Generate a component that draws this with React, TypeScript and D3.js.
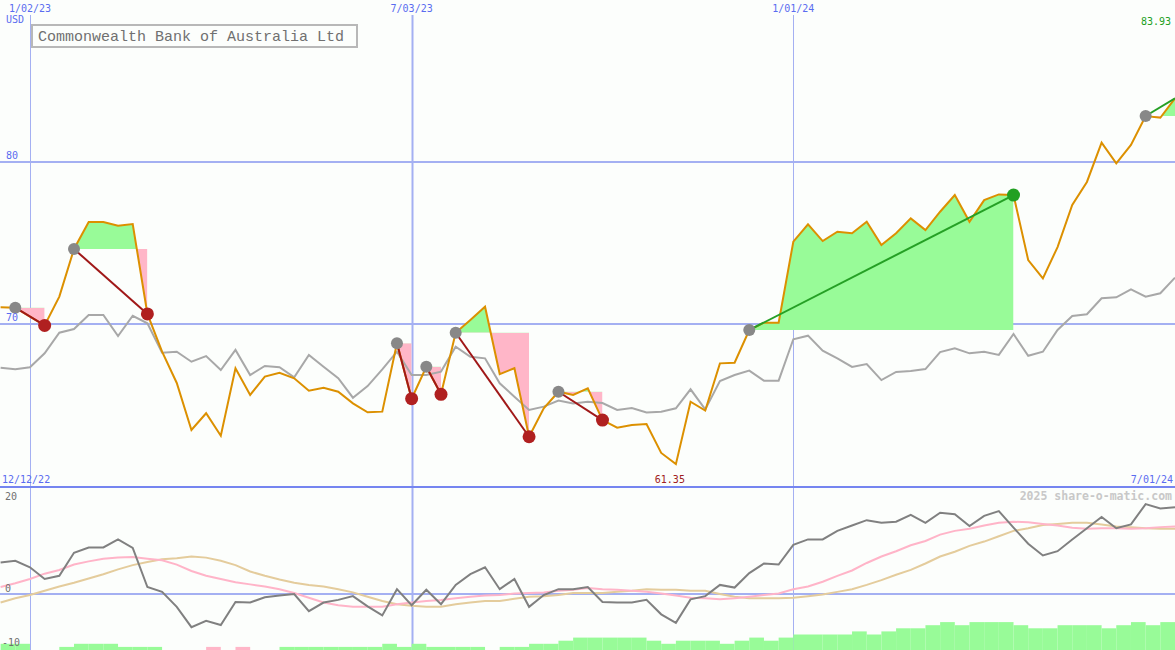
import React from 'react'
import * as d3 from 'd3'

// weekly closes, first week 19 Dec 2022, last week 1 Jul 2024
const firstWeek = new Date(Date.UTC(2022, 11, 19))

const closes = [
  71.03, 71.01, 70.46, 69.91, 71.69, 74.63, 76.3, 76.3, 76.07, 76.17,
  70.62, 68.29, 66.36, 63.46, 64.49, 63.1, 67.27, 65.62, 66.75, 66.99,
  66.65, 65.88, 66.07, 65.82, 65.1, 64.55, 64.59, 68.81, 65.39, 67.36,
  65.66, 69.46, 70.25, 71.07, 66.91, 67.27, 63.04, 64.8, 65.82, 65.62,
  66.03, 64.07, 63.6, 63.77, 63.83, 62.04, 61.35, 65.2, 64.66, 67.57,
  67.61, 69.63, 70.08, 70.08, 75.08, 76.15, 75.12, 75.7, 75.6, 76.31,
  74.88, 75.6, 76.52, 75.8, 76.93, 77.96, 76.31, 77.65, 78.0, 77.96,
  73.95, 72.81, 74.75, 77.35, 78.77, 81.19, 79.92, 81.05, 82.84, 82.73,
  83.93,
]

// relative strength vs. market, drawn on the price scale
const relative = [
  67.3, 67.2, 67.33, 68.19, 69.46, 69.69, 70.56, 70.56, 69.26, 70.51,
  70.04, 68.23, 68.29, 67.67, 68.02, 67.16, 68.4, 66.85, 67.41, 67.33,
  66.71, 68.09, 67.36, 66.65, 65.45, 66.17, 67.2, 68.29, 66.85, 66.85,
  67.06, 68.6, 67.98, 67.88, 66.34, 65.51, 64.69, 64.9, 65.27, 65.1,
  65.2, 65.12, 64.69, 64.81, 64.54, 64.59, 64.8, 65.97, 64.73, 66.48,
  66.85, 67.12, 66.5, 66.5, 69.06, 69.28, 68.35, 67.88, 67.35, 67.53,
  66.54, 67.04, 67.1, 67.22, 68.27, 68.5, 68.19, 68.29, 68.09, 69.38,
  68.04, 68.29, 69.63, 70.49, 70.6, 71.59, 71.65, 72.14, 71.69, 71.9,
  72.86,
]

const momentum = [
  5.9, 6.2, 5.0, 2.8, 3.4, 7.7, 8.7, 8.7, 10.2, 8.6,
  1.3, 0.4, -2.4, -6.2, -5.0, -5.8, -1.5, -1.6, -0.6, -0.3,
  0.0, -3.2, -1.6, -1.1, -0.4, -2.3, -4.0, 0.9, -2.1, 0.8,
  -1.9, 1.7, 3.7, 5.0, 0.9, 2.8, -2.4, -0.2, 0.9, 0.9,
  1.3, -1.5, -1.6, -1.6, -1.1, -3.8, -5.4, -1.0, -0.4, 1.7,
  1.2, 3.9, 5.7, 5.5, 9.2, 10.2, 10.2, 11.8, 12.8, 13.8,
  13.3, 13.5, 14.8, 13.3, 15.2, 14.9, 12.7, 14.6, 15.5, 12.4,
  9.4, 7.2, 8.0, 10.2, 12.3, 14.4, 12.3, 13.0, 16.8, 16.0,
  16.2,
]

const signalFast = [
  1.3, 2.0, 2.8, 3.8, 4.5, 5.5, 6.1, 6.6, 6.8, 6.9,
  6.6, 6.3, 5.5, 4.3, 3.4, 2.8, 2.2, 1.8, 1.4, 0.9,
  0.2, -0.7, -1.6, -2.1, -2.4, -2.4, -2.4, -1.9, -1.6, -1.3,
  -1.1, -0.8, -0.5, -0.3, -0.2, 0.1, 0.2, 0.3, 0.6, 0.8,
  1.1, 0.9, 0.8, 0.6, 0.4, 0.1, -0.3, -0.7, -0.8, -1.0,
  -0.8, -0.5, -0.2, 0.1, 0.9, 1.4, 2.3, 3.4, 4.4, 5.8,
  7.0, 8.0, 9.1, 9.9, 11.1, 11.8, 12.2, 12.8, 13.3, 13.5,
  13.4, 13.1, 12.8, 12.4, 12.2, 12.3, 12.3, 12.2, 12.3, 12.5,
  12.6,
]

const signalSlow = [
  -1.6, -0.8, -0.2, 0.6, 1.4, 2.1, 2.9, 3.7, 4.6, 5.4,
  6.0, 6.5, 6.7, 7.0, 6.8, 6.2, 5.4, 4.2, 3.4, 2.7,
  2.1, 1.7, 1.4, 0.9, 0.3, -0.5, -1.3, -1.9, -2.2, -2.4,
  -2.4, -1.9, -1.6, -1.3, -1.3, -0.9, -0.5, -0.4, -0.2, 0.2,
  0.2, 0.2, 0.4, 0.6, 0.9, 0.8, 0.8, 0.6, 0.6, 0.0,
  -0.5, -0.8, -0.8, -0.8, -0.7, -0.4, -0.1, 0.4, 0.9, 1.7,
  2.6, 3.6, 4.5, 5.7, 7.0, 7.9, 9.0, 9.8, 10.8, 11.8,
  12.3, 12.9, 13.1, 13.3, 13.3, 13.0, 12.6, 12.5, 12.3, 12.2,
  12.2,
]

// one bar per week interval, negative = pink
const flow = [
  2, 2, 0, 0, 1, 2, 2, 2, 1, 1,
  1, 0, 0, 0, -1, 0, -1, 0, 0, 1,
  1, 1, 1, 1, 1, 1, 2, 1, 2, 1,
  1, 1, 1, 0, 1, 1, 2, 2, 3, 4,
  4, 4, 4, 4, 3, 2, 3, 3, 3, 2,
  3, 4, 3, 4, 5, 5, 5, 5, 6, 5,
  6, 7, 7, 8, 9, 8, 9, 9, 9, 8,
  7, 7, 8, 8, 8, 7, 8, 9, 8, 9,
]

// pattern start / end week (index into closes)
const patterns = [
  { from: 1, to: 3, trend: 'down', open: false },
  { from: 5, to: 10, trend: 'down', open: false },
  { from: 27, to: 28, trend: 'down', open: false },
  { from: 29, to: 30, trend: 'down', open: false },
  { from: 31, to: 36, trend: 'down', open: false },
  { from: 38, to: 41, trend: 'down', open: false },
  { from: 51, to: 69, trend: 'up', open: false },
  { from: 78, to: 80, trend: 'up', open: true },
]

const gridDates = ['2023-01-02', '2023-07-03', '2024-01-01']
const priceTicks = [70, 80]
const lowerTicks = [20, 0, -10]
const title = 'Commonwealth Bank of Australia Ltd'
const currency = 'USD'
const firstDateLabel = '12/12/22'

const W = 1175
const H = 650
const SPLIT = 487
const BLUE = '#5a6cf0'
const GRID = '#a4b0f2'
const FONT = 'DejaVu Sans Mono, Liberation Mono, monospace'

const App: React.FC = () => {
  const weeks = closes.map((_, i) => d3.utcDay.offset(firstWeek, i * 7))
  const x = d3.scaleUtc().domain([weeks[0], weeks[weeks.length - 1]]).range([0.6, W])
  const y = d3.scaleLinear().domain([70, 80]).range([324, 162])
  const yLow = d3.scaleLinear().domain([0, -10]).range([594, 647.5])
  const yBar = d3.scaleLinear().domain([0, 10]).range([H, H - 31])
  const fmt = d3.utcFormat('%-m/%d/%y')

  const xi = (i: number) => x(weeks[i])
  const priceLine = d3.line<number>().x((_, i) => xi(i)).y((d) => y(d))
  const lowLine = d3.line<number>().x((_, i) => xi(i)).y((d) => yLow(d))

  const minIdx = d3.minIndex(closes)
  const last = closes[closes.length - 1]

  return (
    <div style={{ position: 'fixed', left: 0, top: 0 }}>
      <svg width={W} height={H} style={{ display: 'block' }} fontFamily={FONT}>
        <defs>
          {patterns.map((p, k) => {
            const lvl = y(closes[p.from])
            return (
              <React.Fragment key={k}>
                <clipPath id={`up${k}`}>
                  <rect x={xi(p.from)} y={0} width={xi(p.to) - xi(p.from)} height={lvl} />
                </clipPath>
                <clipPath id={`dn${k}`}>
                  <rect x={xi(p.from)} y={lvl} width={xi(p.to) - xi(p.from)} height={SPLIT - lvl} />
                </clipPath>
              </React.Fragment>
            )
          })}
        </defs>
        <rect width={W} height={H} fill="#fcfefc" />

        {/* grid */}
        {priceTicks.map((t) => (
          <line key={t} x1={0} x2={W} y1={y(t)} y2={y(t)} stroke={GRID} strokeWidth={2} />
        ))}
        {gridDates.map((d, k) => {
          const gx = Math.round(x(new Date(d))) + 0.5
          return <line key={d} x1={gx} x2={gx} y1={15} y2={H} stroke={GRID} strokeWidth={k === 1 ? 2 : 1} />
        })}
        <line x1={0} x2={W} y1={yLow(0)} y2={yLow(0)} stroke={GRID} strokeWidth={2} />
        <line x1={0} x2={W} y1={SPLIT} y2={SPLIT} stroke="#7585f0" strokeWidth={2} />

        {/* lower panel bars */}
        {flow.map((v, i) =>
          v === 0 ? null : (
            <rect
              key={i}
              x={xi(i)}
              y={yBar(Math.abs(v))}
              width={xi(i + 1) - xi(i)}
              height={H - yBar(Math.abs(v))}
              fill={v > 0 ? '#98fb98' : '#ffb6c8'}
            />
          )
        )}
        <path d={lowLine(signalSlow) ?? ''} fill="none" stroke="#e4cc9c" strokeWidth={2} />
        <path d={lowLine(signalFast) ?? ''} fill="none" stroke="#ffb4c8" strokeWidth={2} />
        <path d={lowLine(momentum) ?? ''} fill="none" stroke="#808080" strokeWidth={2} />

        {/* pattern fills */}
        {patterns.map((p, k) => {
          const idx = d3.range(p.from, p.to + 1)
          const lvl = y(closes[p.from])
          const area = d3
            .area<number>()
            .x((i) => xi(i))
            .y0(lvl)
            .y1((i) => y(closes[i]))
          const d = area(idx) ?? ''
          return (
            <g key={k}>
              <path d={d} fill="#98fb98" clipPath={`url(#up${k})`} />
              <path d={d} fill="#ffb6c8" clipPath={`url(#dn${k})`} />
            </g>
          )
        })}

        <path d={priceLine(relative) ?? ''} fill="none" stroke="#a8a8a8" strokeWidth={2} />
        <path d={priceLine(closes) ?? ''} fill="none" stroke="#dc9000" strokeWidth={2} />

        {/* pattern trend lines and markers */}
        {patterns.map((p, k) => {
          const col = p.trend === 'up' ? '#25a025' : '#a01818'
          return (
            <g key={k}>
              <line
                x1={xi(p.from)}
                y1={y(closes[p.from])}
                x2={xi(p.to)}
                y2={y(closes[p.to])}
                stroke={col}
                strokeWidth={2}
              />
              <circle cx={xi(p.from)} cy={y(closes[p.from])} r={6} fill="#888888" />
              {!p.open && (
                <circle cx={xi(p.to)} cy={y(closes[p.to])} r={6.5} fill={p.trend === 'up' ? '#22a022' : '#b02020'} />
              )}
            </g>
          )
        })}

        {/* labels */}
        <g fontSize={10} fill={BLUE}>
          {gridDates.map((d) => (
            <text key={d} x={x(new Date(d))} y={12} textAnchor="middle">
              {fmt(new Date(d))}
            </text>
          ))}
          <text x={6} y={23}>{currency}</text>
          {priceTicks.map((t) => (
            <text key={t} x={6} y={y(t) - 3}>
              {t}
            </text>
          ))}
          <text x={2} y={483}>{firstDateLabel}</text>
          <text x={W - 2} y={483} textAnchor="end">
            {fmt(weeks[weeks.length - 1])}
          </text>
        </g>
        <text x={W - 4} y={25} fontSize={10} fill="#22a022" textAnchor="end">
          {last.toFixed(2)}
        </text>
        <text x={xi(minIdx) - 6} y={483} fontSize={10} fill="#a02020" textAnchor="middle">
          {closes[minIdx].toFixed(2)}
        </text>
        <text x={W - 3} y={500} fontSize={11.5} fontWeight="bold" fill="#c8c8c8" textAnchor="end">
          2025 share-o-matic.com
        </text>
        <g fontSize={10} fill="#707070">
          {lowerTicks.map((t) => (
            <text key={t} x={t < 0 ? 2 : 5} y={t === 20 ? 500 : yLow(t) - 2}>
              {t}
            </text>
          ))}
        </g>

        <rect x={32} y={25} width={325} height={22} fill="#fcfefc" stroke="#b8b8b8" strokeWidth={2} />
        <text x={38} y={41} fontSize={15} fill="#707070" fontFamily="Liberation Mono, monospace">
          {title}
        </text>
      </svg>
    </div>
  )
}

export default App
